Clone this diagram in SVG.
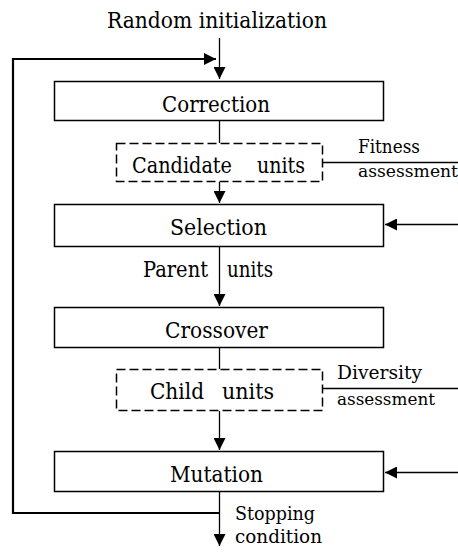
<svg xmlns="http://www.w3.org/2000/svg" width="458" height="552" viewBox="0 0 458 552">
<style>
.box{fill:#fff;stroke:#000;stroke-width:1.5}
.dbox{fill:#fff;stroke:#000;stroke-width:1.5;stroke-dasharray:9 4}
.ln{fill:none;stroke:#000;stroke-width:1.3}
.thick{fill:none;stroke:#000;stroke-width:2.2}
text{font-family:"DejaVu Serif","Liberation Serif",serif;font-size:21.5px;fill:#000}
.sm{font-size:19px}
.xs{font-size:16px}
</style>
<defs>
<marker id="arr" viewBox="0 0 13 13" refX="13" refY="6.5" markerWidth="12" markerHeight="12" markerUnits="userSpaceOnUse" orient="auto">
<path d="M0,0 L13,6.5 L0,13 Z" fill="#000"/>
</marker>
</defs>
<rect width="458" height="552" fill="#fff"/>
<g id="connectors">
<line class="ln" x1="219.5" y1="38" x2="219.5" y2="79" marker-end="url(#arr)"/>
<polyline class="thick" points="219.5,513 13,513 13,59 216,59" marker-end="url(#arr)"/>
<line class="ln" x1="219.5" y1="121" x2="219.5" y2="143"/>
<line class="ln" x1="219.5" y1="182" x2="219.5" y2="203" marker-end="url(#arr)"/>
<line class="ln" x1="323" y1="162.5" x2="458" y2="162.5"/>
<line class="ln" x1="458" y1="224.5" x2="385" y2="224.5" marker-end="url(#arr)"/>
<line class="ln" x1="219.5" y1="247" x2="219.5" y2="306" marker-end="url(#arr)"/>
<line class="ln" x1="219.5" y1="348" x2="219.5" y2="369"/>
<line class="ln" x1="323" y1="388.5" x2="458" y2="388.5"/>
<line class="ln" x1="219.5" y1="411" x2="219.5" y2="450" marker-end="url(#arr)"/>
<line class="ln" x1="458" y1="472.5" x2="385" y2="472.5" marker-end="url(#arr)"/>
<line class="ln" x1="219.5" y1="492" x2="219.5" y2="546" marker-end="url(#arr)"/>
</g>
<g id="random-init"><text x="107" y="28" textLength="220" lengthAdjust="spacingAndGlyphs">Random initialization</text></g>
<g id="correction">
<rect class="box" x="54.5" y="81.5" width="329" height="39"/>
<text x="162" y="112" textLength="108" lengthAdjust="spacingAndGlyphs">Correction</text>
</g>
<g id="candidate-units">
<rect class="dbox" x="116.5" y="143.5" width="206" height="38"/>
<text x="132" y="173" textLength="100" lengthAdjust="spacingAndGlyphs">Candidate</text>
<text x="257" y="173" textLength="48" lengthAdjust="spacingAndGlyphs">units</text>
</g>
<g id="fitness-label">
<text class="sm" x="358" y="153" textLength="62" lengthAdjust="spacingAndGlyphs">Fitness</text>
<text class="xs" x="358" y="177" textLength="100" lengthAdjust="spacingAndGlyphs">assessment</text>
</g>
<g id="selection">
<rect class="box" x="54.5" y="204.5" width="329" height="42"/>
<text x="170" y="235" textLength="97" lengthAdjust="spacingAndGlyphs">Selection</text>
</g>
<g id="parent-units">
<text x="143" y="277" textLength="65" lengthAdjust="spacingAndGlyphs">Parent</text>
<text x="227" y="277" textLength="46" lengthAdjust="spacingAndGlyphs">units</text>
</g>
<g id="crossover">
<rect class="box" x="54.5" y="307.5" width="329" height="40"/>
<text x="165" y="338" textLength="103" lengthAdjust="spacingAndGlyphs">Crossover</text>
</g>
<g id="child-units">
<rect class="dbox" x="116.5" y="369.5" width="206" height="41"/>
<text x="150" y="399" textLength="54" lengthAdjust="spacingAndGlyphs">Child</text>
<text x="222" y="399" textLength="52" lengthAdjust="spacingAndGlyphs">units</text>
</g>
<g id="diversity-label">
<text class="sm" x="337" y="379" textLength="85" lengthAdjust="spacingAndGlyphs">Diversity</text>
<text class="xs" x="337" y="405" textLength="98" lengthAdjust="spacingAndGlyphs">assessment</text>
</g>
<g id="mutation">
<rect class="box" x="54.5" y="451.5" width="329" height="40"/>
<text x="170" y="482" textLength="93" lengthAdjust="spacingAndGlyphs">Mutation</text>
</g>
<g id="stopping-label">
<text class="sm" x="235" y="520" textLength="80" lengthAdjust="spacingAndGlyphs">Stopping</text>
<text class="sm" x="235" y="543" textLength="87" lengthAdjust="spacingAndGlyphs">condition</text>
</g>
</svg>
